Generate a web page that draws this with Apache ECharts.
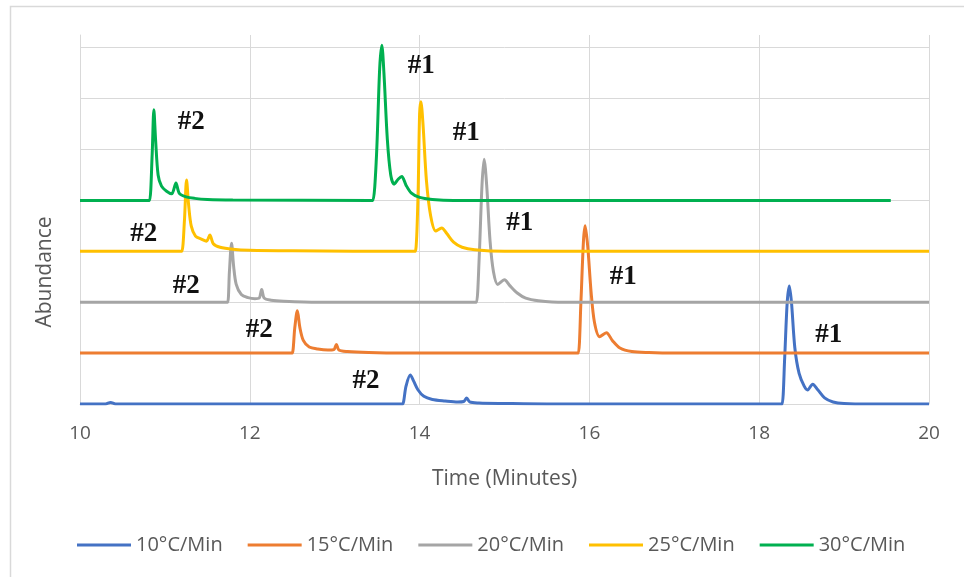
<!DOCTYPE html>
<html>
<head>
<meta charset="utf-8">
<script src="https://cdn.jsdelivr.net/npm/echarts@6/dist/echarts.min.js"></script>
<style>
  html, body { margin: 0; padding: 0; background: #ffffff; }
  #chart { width: 964px; height: 577px; }
</style>
</head>
<body>
<div id="chart"></div>
<script>
// Chromatogram traces at five heating rates, each stacked on its own baseline
// (x = retention time in minutes, y = offset abundance).
const seriesNames = ['10°C/Min', '15°C/Min', '20°C/Min', '25°C/Min', '30°C/Min'];
const seriesColors = ['#4472C4', '#ED7D31', '#A5A5A5', '#FFC000', '#00B050'];

const trace10 = [
  [10, 0], [10.3, 0], [10.36, 0.03], [10.42, 0], [13.78, 0], [13.8, 0], [13.84, 0.35], [13.89, 0.57],
  [13.93, 0.45], [13.98, 0.28], [14.05, 0.15], [14.15, 0.09], [14.3, 0.06], [14.45, 0.04],
  [14.52, 0.05], [14.555, 0.12], [14.59, 0.04], [14.7, 0.02], [15.0, 0.01], [15.5, 0],
  [18.25, 0], [18.27, 0], [18.3, 0.9], [18.33, 2.0], [18.355, 2.32], [18.38, 2.0], [18.42, 1.1],
  [18.47, 0.6], [18.53, 0.35], [18.57, 0.275], [18.63, 0.39], [18.69, 0.28], [18.77, 0.12],
  [18.87, 0.04], [19.0, 0.01], [19.3, 0], [20, 0]
];
const trace15 = [
  [10, 1.0], [12.48, 1.0], [12.5, 1.0], [12.53, 1.5], [12.56, 1.83], [12.59, 1.5], [12.63, 1.25],
  [12.7, 1.12], [12.8, 1.08], [12.92, 1.06], [12.99, 1.07], [13.02, 1.17], [13.05, 1.06],
  [13.15, 1.03], [13.4, 1.01], [13.8, 1.0], [15.85, 1.0], [15.87, 1.0], [15.9, 2.0], [15.93, 3.2],
  [15.95, 3.5], [15.98, 3.1], [16.02, 2.2], [16.06, 1.6], [16.12, 1.32], [16.2, 1.40],
  [16.27, 1.25], [16.36, 1.1], [16.5, 1.03], [16.7, 1.01], [17, 1.0], [20, 1.0]
];
const trace20 = [
  [10, 2.0], [11.72, 2.0], [11.74, 2.0], [11.76, 2.6], [11.785, 3.16], [11.81, 2.7], [11.84, 2.35],
  [11.9, 2.15], [11.98, 2.09], [12.06, 2.07], [12.11, 2.08], [12.14, 2.25], [12.17, 2.08],
  [12.25, 2.04], [12.4, 2.02], [12.8, 2.0], [14.65, 2.0], [14.67, 2.0], [14.70, 2.8], [14.735, 4.3],
  [14.76, 4.81], [14.79, 4.3], [14.83, 3.2], [14.87, 2.6], [14.92, 2.35], [15.0, 2.44],
  [15.06, 2.33], [15.15, 2.18], [15.25, 2.08], [15.4, 2.03], [15.7, 2.0], [20, 2.0]
];
const trace25 = [
  [10, 3.0], [11.18, 3.0], [11.2, 3.0], [11.23, 3.6], [11.255, 4.4], [11.28, 3.9], [11.31, 3.5],
  [11.36, 3.3], [11.43, 3.24], [11.49, 3.2], [11.53, 3.32], [11.57, 3.15], [11.65, 3.08],
  [11.8, 3.04], [12.0, 3.02], [12.5, 3.01], [13.93, 3.0], [13.95, 3.0], [13.98, 4.0], [14.0, 5.7],
  [14.015, 5.94], [14.04, 5.5], [14.08, 4.4], [14.13, 3.7], [14.19, 3.4], [14.26, 3.46],
  [14.32, 3.35], [14.4, 3.18], [14.5, 3.08], [14.65, 3.03], [15, 3.0], [20, 3.0]
];
const trace30 = [
  [10, 4.0], [10.8, 4.0], [10.82, 4.0], [10.85, 4.9], [10.87, 5.78], [10.89, 5.2], [10.92, 4.5],
  [10.96, 4.28], [11.02, 4.18], [11.08, 4.13], [11.13, 4.34], [11.17, 4.14], [11.25, 4.07],
  [11.35, 4.04], [11.5, 4.02], [11.8, 4.01], [13.43, 4.0], [13.45, 4.0], [13.49, 4.8], [13.53, 6.6],
  [13.555, 7.05], [13.58, 6.5], [13.62, 5.2], [13.66, 4.5], [13.70, 4.32], [13.75, 4.42],
  [13.79, 4.47], [13.84, 4.3], [13.9, 4.15], [14.0, 4.06], [14.15, 4.02], [14.4, 4.0],
  [19.55, 4.0]
];

// Peak tags: [text, time, abundance] where each "#n" tag sits
const tags10 = [['#2', 13.37, 0.45], ['#1', 18.82, 1.36]];
const tags15 = [['#2', 12.11, 1.45], ['#1', 16.40, 2.50]];
const tags20 = [['#2', 11.25, 2.32], ['#1', 15.18, 3.56]];
const tags25 = [['#2', 10.75, 3.34], ['#1', 14.55, 5.32]];
const tags30 = [['#2', 11.31, 5.54], ['#1', 14.02, 6.64]];

const xTicks = { min: 10, max: 20, interval: 2 };

const traces = [trace10, trace15, trace20, trace25, trace30];
const tags = [tags10, tags15, tags20, tags25, tags30];

const uiFont = '"Open Sans", "Noto Sans", sans-serif';
const gridColor = '#d9d9d9';
const textColor = '#595959';

const chart = echarts.init(document.getElementById('chart'), null, { renderer: 'canvas' });

const series = traces.map((data, i) => ({
  name: seriesNames[i],
  type: 'line',
  data: data,
  showSymbol: false,
  symbol: 'none',
  smooth: 0.3,
  lineStyle: { width: 3, color: seriesColors[i] },
  itemStyle: { color: seriesColors[i] },
  emphasis: { disabled: true },
  markPoint: {
    symbol: 'circle',
    symbolSize: 1,
    itemStyle: { color: 'rgba(0,0,0,0)' },
    label: {
      show: true,
      position: 'inside',
      formatter: '{b}',
      color: '#111111',
      fontFamily: '"Liberation Serif", "DejaVu Serif", serif',
      fontWeight: 'bold',
      fontSize: 27
    },
    data: tags[i].map(t => ({ name: t[0], coord: [t[1], t[2]] }))
  }
}));

chart.setOption({
  animation: false,
  backgroundColor: '#ffffff',
  grid: { left: 80, right: 35, top: 35, bottom: 173, containLabel: false },
  xAxis: {
    type: 'value',
    min: xTicks.min,
    max: xTicks.max,
    interval: xTicks.interval,
    name: 'Time (Minutes)',
    nameLocation: 'middle',
    nameGap: 65,
    nameTextStyle: { color: textColor, fontFamily: uiFont, fontSize: 21 },
    axisLine: { show: true, lineStyle: { color: gridColor, width: 1 } },
    axisTick: { show: false },
    axisLabel: { color: textColor, fontFamily: uiFont, fontSize: 19, margin: 20 },
    splitLine: { show: true, lineStyle: { color: gridColor, width: 1 } }
  },
  yAxis: {
    type: 'value',
    min: 0,
    max: 7.25,
    interval: 1,
    axisLine: { show: true, lineStyle: { color: gridColor, width: 1 } },
    axisTick: { show: false },
    axisLabel: { show: false },
    splitLine: { show: true, showMaxLine: false, lineStyle: { color: gridColor, width: 1 } }
  },
  legend: {
    data: seriesNames,
    left: 77,
    top: 535,
    padding: 0,
    icon: 'rect',
    itemWidth: 54,
    itemHeight: 3,
    itemGap: 25,
    itemTextGap: 3,
    textStyle: { color: textColor, fontFamily: uiFont, fontSize: 20 }
  },
  graphic: [
    {
      type: 'rect',
      silent: true,
      shape: { x: 10.5, y: 6.5, width: 1000, height: 620 },
      style: { fill: 'none', stroke: gridColor, lineWidth: 1.5 }
    },
    {
      type: 'text',
      silent: true,
      x: 45,
      y: 272,
      rotation: Math.PI / 2,
      style: {
        text: 'Abundance',
        fill: textColor,
        font: '21px "Open Sans", "Noto Sans", sans-serif',
        textAlign: 'center',
        textVerticalAlign: 'middle'
      }
    }
  ],
  series: series
});
</script>
</body>
</html>
